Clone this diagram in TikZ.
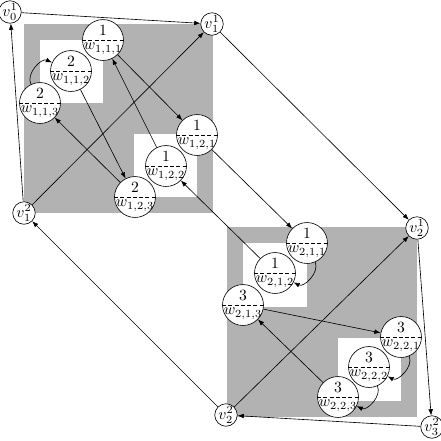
\documentclass[tikz,border=0pt]{standalone}
\usetikzlibrary{arrows.meta}
\tikzset{
  wc/.style={circle,draw,fill=white,minimum size=26.2pt,inner sep=0pt},
  vc/.style={circle,draw,fill=white,minimum size=13pt,inner sep=0pt},
  dashline/.style={dash pattern=on 2.5pt off 1.5pt},
  toptext/.style={anchor=south,inner sep=2.5pt},
  bottext/.style={anchor=north,inner sep=1.8pt},
  edge/.style={-{Latex[length=4pt,width=3pt]}},
  curved/.style={edge,bend left=70},
  graybox/.style={fill=black!30},
  whitebox/.style={fill=white},
}
\newcommand\wnd[4]{%
  \node[wc] (#1) at (#2) {};
  \draw[dashline] (#1.west) -- (#1.east);
  \node[toptext] (#1t) at (#1.center) {#3};
  \node[bottext] (#1b) at (#1.center) {$#4$};
}
\begin{document}
\begin{tikzpicture}[x=0.64pt,y=-0.64pt]
\useasboundingbox (0,0) rectangle (441,441);
% gray squares
\fill[graybox] (24,24) rectangle (213,213);
\fill[whitebox] (40,40) rectangle (103,103);
\fill[whitebox] (134,134) rectangle (197,197);
\fill[graybox] (227,227) rectangle (417,417);
\fill[whitebox] (243,243) rectangle (307,307);
\fill[whitebox] (338,338) rectangle (401,401);
% v nodes
\node[vc] (v01) at (10,12) {$v_0^1$};
\node[vc] (v11) at (212,24) {$v_1^1$};
\node[vc] (v12) at (24,213) {$v_1^2$};
\node[vc] (v21) at (417,228) {$v_2^1$};
\node[vc] (v22) at (226,415) {$v_2^2$};
\node[vc] (v32) at (432,427) {$v_3^2$};
% w nodes
\wnd{w111}{103,40}{1}{w_{1,1,1}}
\wnd{w112}{71,71}{2}{w_{1,1,2}}
\wnd{w113}{40,103}{2}{w_{1,1,3}}
\wnd{w121}{197,135}{1}{w_{1,2,1}}
\wnd{w122}{166,166}{1}{w_{1,2,2}}
\wnd{w123}{135,197}{2}{w_{1,2,3}}
\wnd{w211}{307,243}{1}{w_{2,1,1}}
\wnd{w212}{275,273}{1}{w_{2,1,2}}
\wnd{w213}{243,305}{3}{w_{2,1,3}}
\wnd{w221}{401,337}{3}{w_{2,2,1}}
\wnd{w222}{369,367}{3}{w_{2,2,2}}
\wnd{w223}{338,397}{3}{w_{2,2,3}}
% v edges
\draw[edge] (v01) -- (v11);
\draw[edge] (v12) -- (v01);
\draw[edge] (v12) -- (v11);
\draw[edge] (v11) -- (v21);
\draw[edge] (v22) -- (v12);
\draw[edge] (v22) -- (v21);
\draw[edge] (v21) -- (v32);
\draw[edge] (v32) -- (v22);
% w edges
\draw[edge] (w111) -- (w121);
\draw[edge] (w122) -- (w111);
\draw[edge] (w112) -- (w123);
\draw[edge] (w123) -- (w113);
\draw[curved] (w113) to (w112);
\draw[edge] (w121) -- (w211);
\draw[edge] (w212) -- (w122);
\draw[curved] (w211) to (w212);
\draw[edge] (w213) -- (w221);
\draw[edge] (w223) -- (w213);
\draw[curved] (w221) to (w222);
\draw[curved] (w222) to (w223);
\end{tikzpicture}
\end{document}
